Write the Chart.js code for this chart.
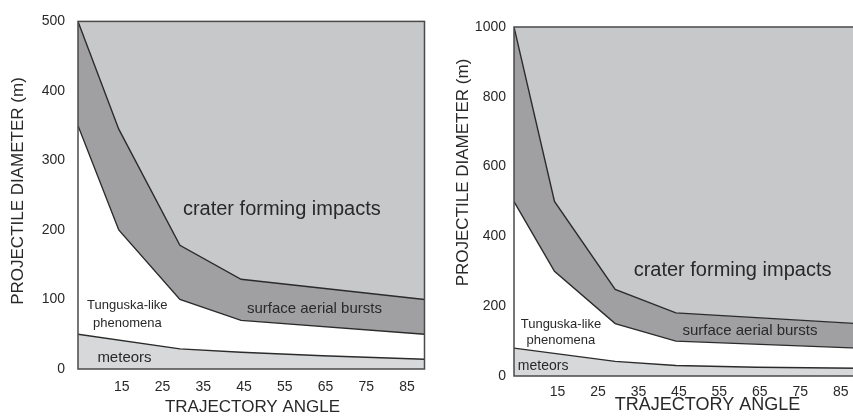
<!DOCTYPE html>
<html>
<head>
<meta charset="utf-8">
<script src="https://cdn.jsdelivr.net/npm/chart.js@4/dist/chart.umd.min.js"></script>
<style>
html, body { margin:0; padding:0; background:#fff; overflow:hidden; width:853px; height:416px; }
.panel { position:absolute; top:0; height:416px; }
#p1 { left:0; width:432px; }
#p2 { left:432px; width:440px; }
</style>
</head>
<body>
<div class="panel" id="p1"><canvas id="leftChart"></canvas></div>
<div class="panel" id="p2"><canvas id="rightChart"></canvas></div>
<script>
var angleTicks = [15, 25, 35, 45, 55, 65, 75, 85];

// left panel, diameters up to 500 m
var leftAngles = [5, 15, 30, 45, 90];
var leftCraterEdge = [500, 345, 178, 129, 100];
var leftBurstEdge = [350, 200, 100, 70, 50];
var leftMeteorAngles = [5, 30, 45, 65, 90];
var leftMeteorEdge = [50, 29, 24, 19, 14];

// right panel, diameters up to 1000 m
var rightAngles = [5, 15, 30, 45, 90];
var rightCraterEdge = [1000, 500, 248, 181, 150];
var rightBurstEdge = [500, 300, 150, 100, 80];
var rightMeteorAngles = [5, 30, 45, 65, 90];
var rightMeteorEdge = [80, 42, 30, 25, 22];

var FONT = '"Liberation Sans", Arial, sans-serif';
var INK = '#292929';

function pts(xs, ys) {
  return xs.map(function (x, i) { return { x: x, y: ys[i] }; });
}

function datasets(angles, crater, burst, mAngles, meteor) {
  var line = { borderColor: '#2b2b2b', borderWidth: 1.4, pointRadius: 0, tension: 0 };
  return [
    Object.assign({ label: 'crater forming impacts', data: pts(angles, crater), fill: 'end', backgroundColor: '#c6c8ca' }, line),
    Object.assign({ label: 'surface aerial bursts', data: pts(angles, burst), fill: '-1', backgroundColor: '#a0a0a2' }, line),
    Object.assign({ label: 'meteors', data: pts(mAngles, meteor), fill: 'origin', backgroundColor: '#d7d8d9' }, line)
  ];
}

// frame + free text (region names and axis titles)
var textPlugin = {
  id: 'panelText',
  afterDraw: function (chart) {
    var o = chart.options.plugins.panelText;
    var ctx = chart.ctx, a = chart.chartArea;
    var xs = chart.scales.x, ys = chart.scales.y;
    ctx.save();
    ctx.strokeStyle = '#4a4a4a';
    ctx.lineWidth = 1.5;
    ctx.strokeRect(a.left, a.top, a.right - a.left, a.bottom - a.top);
    ctx.fillStyle = INK;
    ctx.textAlign = 'center';
    ctx.textBaseline = 'middle';
    o.labels.forEach(function (l) {
      ctx.font = l.size + 'px ' + FONT;
      ctx.fillText(l.text, xs.getPixelForValue(l.x), ys.getPixelForValue(l.y));
    });
    o.titles.forEach(function (t) {
      ctx.save();
      ctx.translate(t.px, t.py);
      if (t.rotate) ctx.rotate(-Math.PI / 2);
      ctx.font = t.size + 'px ' + FONT;
      ctx.fillText(t.text, 0, 0);
      ctx.restore();
    });
    ctx.restore();
  }
};

function makeChart(id, cfg) {
  return new Chart(document.getElementById(id), {
    type: 'line',
    data: { datasets: datasets(cfg.angles, cfg.crater, cfg.burst, cfg.mAngles, cfg.meteor) },
    plugins: [textPlugin],
    options: {
      responsive: true,
      maintainAspectRatio: false,
      animation: false,
      layout: { padding: cfg.padding },
      plugins: {
        legend: { display: false },
        tooltip: { enabled: false },
        panelText: { labels: cfg.labels, titles: cfg.titles }
      },
      scales: {
        x: {
          type: 'linear', min: 5, max: 90,
          grid: { display: false, drawTicks: false },
          border: { display: false },
          afterBuildTicks: function (s) { s.ticks = angleTicks.map(function (v) { return { value: v }; }); },
          afterFit: function (s) { s.height = cfg.xHeight; },
          ticks: { color: INK, font: { family: FONT, size: 14 }, padding: cfg.xPad, labelOffset: 3, maxRotation: 0, autoSkip: false }
        },
        y: {
          min: 0, max: cfg.yMax,
          grid: { display: false, drawTicks: false },
          border: { display: false },
          afterFit: function (s) { s.width = cfg.yWidth; },
          ticks: {
            color: INK, font: { family: FONT, size: 14 }, padding: cfg.yPad, stepSize: cfg.yStep,
            callback: function (v) { return String(v); }
          }
        }
      }
    }
  });
}

makeChart('leftChart', {
  angles: leftAngles, crater: leftCraterEdge, burst: leftBurstEdge,
  mAngles: leftMeteorAngles, meteor: leftMeteorEdge,
  yMax: 500, yStep: 100,
  padding: { top: 21, right: 7.5, left: 0, bottom: 0 },
  yWidth: 78, xHeight: 47, xPad: 10, yPad: 13,
  labels: [
    { text: 'crater forming impacts', x: 55, y: 230, size: 20 },
    { text: 'surface aerial bursts', x: 63, y: 86, size: 15 },
    { text: 'Tunguska-like', x: 17.1, y: 92, size: 13 },
    { text: 'phenomena', x: 17.1, y: 66, size: 13 },
    { text: 'meteors', x: 16.4, y: 16, size: 15 }
  ],
  titles: [
    { text: 'TRAJECTORY ANGLE', px: 252.5, py: 407, size: 17 },
    { text: 'PROJECTILE DIAMETER (m)', px: 18, py: 191, size: 17, rotate: true }
  ]
});

makeChart('rightChart', {
  angles: rightAngles, crater: rightCraterEdge, burst: rightBurstEdge,
  mAngles: rightMeteorAngles, meteor: rightMeteorEdge,
  yMax: 1000, yStep: 200,
  padding: { top: 27, right: 14, left: 0, bottom: 0 },
  yWidth: 82, xHeight: 40, xPad: 8, yPad: 8,
  labels: [
    { text: 'crater forming impacts', x: 59, y: 303, size: 20 },
    { text: 'surface aerial bursts', x: 63.3, y: 129, size: 15 },
    { text: 'Tunguska-like', x: 16.6, y: 149, size: 13 },
    { text: 'phenomena', x: 16.6, y: 103, size: 13 },
    { text: 'meteors', x: 12.2, y: 29, size: 14 }
  ],
  titles: [
    { text: 'TRAJECTORY ANGLE', px: 275.5, py: 405, size: 18 },
    { text: 'PROJECTILE DIAMETER (m)', px: 31, py: 172.5, size: 17, rotate: true }
  ]
});
</script>
</body>
</html>
